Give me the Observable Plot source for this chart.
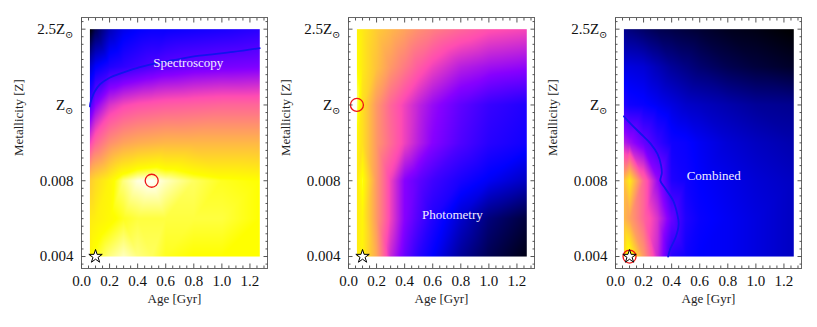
<!DOCTYPE html>
<html><head><meta charset="utf-8">
<script src="https://cdn.jsdelivr.net/npm/d3@7"></script>
<script src="https://cdn.jsdelivr.net/npm/@observablehq/plot@0.6"></script>
<style>
body{margin:0;background:#fff}
#chart{position:relative;width:817px;height:327px;overflow:hidden;background:#fff}
#chart svg{position:absolute;top:0;background:transparent !important}
</style></head><body><div id="chart"></div>
<script>
// ---- data ----
const ages = [0.06, 0.1, 0.2, 0.3, 0.4, 0.5, 0.6, 0.8, 1.0, 1.27];   // age grid [Gyr]
const zRows = [0, 0.5, 1, 1.5, 2, 2.5, 3];                          // metallicity rows (tick index)
const yTickValues = [0, 1, 2, 3];
const yTickLabels = ["0.004", "0.008", "Z⊙", "2.5Z⊙"];
const xTickValues = [0, 0.2, 0.4, 0.6, 0.8, 1.0, 1.2];
const panelNames = ["Spectroscopy", "Photometry", "Combined"];

// normalised likelihood, rows from bottom (0.004) to top (2.5 Z⊙)
const spectroscopy = [
  [0.90,0.93,0.96,0.98,0.96,0.95,0.93,0.92,0.92,0.92],
  [0.88,0.89,0.91,0.93,0.94,0.94,0.94,0.94,0.94,0.92],
  [0.82,0.85,0.90,0.96,0.99,1.00,0.98,0.95,0.93,0.92],
  [0.55,0.62,0.70,0.74,0.76,0.77,0.78,0.78,0.78,0.78],
  [0.33,0.42,0.52,0.56,0.58,0.59,0.60,0.61,0.62,0.62],
  [0.20,0.25,0.29,0.31,0.33,0.35,0.37,0.39,0.40,0.41],
  [0.00,0.08,0.18,0.23,0.25,0.26,0.26,0.27,0.28,0.30]
];
const photometry = [
  [0.88,0.90,0.75,0.50,0.38,0.30,0.25,0.15,0.08,0.02],
  [0.88,0.90,0.72,0.55,0.42,0.35,0.29,0.20,0.12,0.06],
  [0.88,0.93,0.72,0.55,0.42,0.37,0.33,0.28,0.24,0.19],
  [0.90,0.86,0.72,0.63,0.55,0.48,0.42,0.35,0.30,0.27],
  [0.96,0.86,0.72,0.62,0.55,0.49,0.44,0.37,0.32,0.29],
  [0.92,0.88,0.80,0.72,0.66,0.60,0.55,0.48,0.45,0.43],
  [0.90,0.88,0.82,0.78,0.74,0.70,0.67,0.62,0.58,0.56]
];
const combined = [
  [0.85,0.95,0.72,0.50,0.30,0.27,0.25,0.24,0.22,0.19],
  [0.78,0.74,0.62,0.52,0.38,0.29,0.26,0.24,0.22,0.19],
  [0.80,0.88,0.62,0.44,0.29,0.27,0.25,0.23,0.21,0.19],
  [0.48,0.45,0.38,0.32,0.27,0.26,0.24,0.21,0.19,0.17],
  [0.29,0.27,0.26,0.24,0.22,0.20,0.19,0.17,0.15,0.14],
  [0.22,0.22,0.21,0.18,0.15,0.13,0.11,0.08,0.06,0.04],
  [0.14,0.12,0.10,0.08,0.07,0.06,0.05,0.03,0.02,0.00]
];

// contour lines
const spectroContourAge = [0.06,0.063,0.07,0.08,0.095,0.13,0.20,0.30,0.415,0.53,0.65,0.84,1.08,1.27];
const spectroContourZ   = [1.98,2.02,2.07,2.12,2.18,2.27,2.36,2.43,2.50,2.55,2.59,2.65,2.70,2.75];
const combinedContourAge = [0.06,0.109,0.18,0.25,0.30,0.325,0.33,0.32,0.35,0.41,0.44,0.45,0.43,0.39,0.375];
const combinedContourZ   = [1.85,1.75,1.62,1.49,1.35,1.20,1.10,1.0,0.91,0.74,0.56,0.43,0.26,0.10,0];

// best-fit (red circle) and true value (star)
const bestAge = [0.5, 0.06, 0.1];
const bestZ   = [1, 2, 0];
const trueAge = 0.1, trueZ = 0;

// panel labels (data coordinates)
const labelAge = [0.76, 0.74, 0.70];
const labelZ   = [2.55, 0.55, 1.07];

// ---- rendering ----
function clamp(v){ return Math.max(0, Math.min(1, v)); }
function gnuplot2(t){
  const r = clamp(t/0.32 - 0.78125);
  const g = clamp(2*t - 0.84);
  const b = clamp(t < 0.25 ? 4*t : t < 0.92 ? -2*t + 1.84 : t/0.08 - 11.5);
  return `rgb(${Math.round(r*255)},${Math.round(g*255)},${Math.round(b*255)})`;
}
const grids = [spectroscopy, photometry, combined];
const contours = [[spectroContourAge, spectroContourZ], null, [combinedContourAge, combinedContourZ]];
const xMinor = d3.range(0, 1.33, 0.05).filter(v => Math.abs(v/0.2 - Math.round(v/0.2)) > 1e-6);
const yMinor = d3.range(-1, 32).map(i => i/10).filter(v => v > -0.158 && v < 3.154 && Math.abs(v - Math.round(v)) > 1e-6);

const FONT = "'Liberation Serif', 'DejaVu Serif', serif";
const TICK = "#555";
const chart = document.getElementById("chart");

grids.forEach((grid, p) => {
  const cells = [];
  zRows.forEach((z, i) => ages.forEach((a, j) => cells.push({age: a, z, v: grid[i][j]})));
  const marks = [
    Plot.raster(cells, {x: "age", y: "z", fill: "v", x1: ages[0], x2: ages[ages.length-1], y1: zRows[0], y2: zRows[zRows.length-1], interpolate: "barycentric"})
  ];
  if (contours[p]) {
    const [ca, cz] = contours[p];
    marks.push(Plot.line(ca.map((a, k) => ({a, z: cz[k]})), {x: "a", y: "z", stroke: "#1212ee", strokeWidth: 1.8, curve: "catmull-rom"}));
  }
  marks.push(
    Plot.dot([{a: bestAge[p], z: bestZ[p]}], {x: "a", y: "z", r: 6.5, stroke: "#ee1515", strokeWidth: 1.3, fill: "none"}),
    Plot.dot([{a: trueAge, z: trueZ}], {x: "a", y: "z", symbol: "star", r: 4.2, fill: "white", stroke: "black", strokeWidth: 1}),
    Plot.text([panelNames[p]], {x: () => labelAge[p], y: () => labelZ[p], text: d => d, fill: "#f4eeff", fontSize: 13, fontFamily: FONT}),
    Plot.frame({stroke: "#666", strokeWidth: 1}),
    // bottom
    Plot.axisX({anchor: "bottom", ticks: xTickValues, tickSize: -4.5, tickPadding: 11, tickFormat: d3.format(".1f"), fontSize: 15, stroke: TICK, label: null}),
    Plot.axisX({anchor: "bottom", ticks: xMinor, tickSize: -2.5, tickFormat: () => "", stroke: TICK, label: null}),
    // top
    Plot.axisX({anchor: "top", ticks: xTickValues, tickSize: -4.5, tickFormat: () => "", stroke: TICK, label: null}),
    Plot.axisX({anchor: "top", ticks: xMinor, tickSize: -2.5, tickFormat: () => "", stroke: TICK, label: null}),
    // left
    Plot.axisY({anchor: "left", ticks: yTickValues, tickSize: -4.5, tickPadding: 12.5, tickFormat: i => yTickLabels[i], fontSize: 15, stroke: TICK, label: null}),
    Plot.axisY({anchor: "left", ticks: yMinor, tickSize: -2.5, tickFormat: () => "", stroke: TICK, label: null}),
    // right
    Plot.axisY({anchor: "right", ticks: yTickValues, tickSize: -4.5, tickFormat: () => "", stroke: TICK, label: null}),
    Plot.axisY({anchor: "right", ticks: yMinor, tickSize: -2.5, tickFormat: () => "", stroke: TICK, label: null}),
    Plot.text(["Age [Gyr]"], {frameAnchor: "bottom", dy: 34, fontSize: 13, fontFamily: FONT, fill: "#222"}),
    Plot.text(["Metallicity [Z]"], {frameAnchor: "left", dx: -63, dy: 13, rotate: -90, fontSize: 13, fontFamily: FONT, fill: "#222"})
  );
  const svg = Plot.plot({
    width: 272, height: 327,
    marginLeft: 81, marginRight: 5, marginTop: 17, marginBottom: 59,
    x: {domain: [0, 1.325]},
    y: {domain: [-0.158, 3.154]},
    color: {type: "linear", domain: [0, 1], interpolate: gnuplot2},
    style: {fontFamily: FONT, color: "#111", background: "transparent"},
    marks
  });
  svg.style.left = (p * 267) + "px";
  // subscript solar symbol
  svg.querySelectorAll("text").forEach(t => {
    if (t.textContent.includes("⊙") && t.children.length <= 1) {
      const node = t.querySelector("tspan") || t;
      const s = node.textContent;
      const base = s.replace("⊙", "");
      node.textContent = "";
      const ns = "http://www.w3.org/2000/svg";
      const t1 = document.createElementNS(ns, "tspan"); t1.textContent = base;
      const t2 = document.createElementNS(ns, "tspan"); t2.textContent = "⊙";
      t2.setAttribute("font-size", "10"); t2.setAttribute("dy", "4");
      node.appendChild(t1); node.appendChild(t2);
    }
  });
  chart.appendChild(svg);
});
</script></body></html>
